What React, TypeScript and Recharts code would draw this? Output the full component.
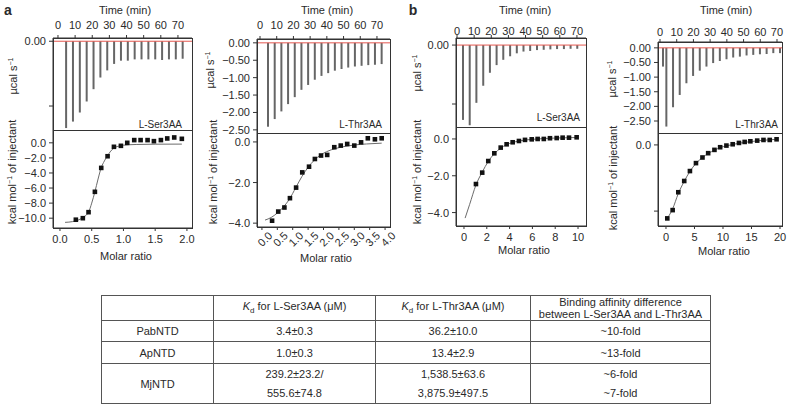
import React from "react";
import { Bar, ComposedChart, Line, ReferenceLine, Scatter, XAxis, YAxis } from "recharts";

const FONT = '"Liberation Sans", Arial, Helvetica, sans-serif';
const INK = "#2a2a2a";

// time axis of the raw heat traces
const timeTicks = [0, 10, 20, 30, 40, 50, 60, 70];

// a, L-Ser3AA
const serTimesA = [5, 9, 13, 17, 21, 25, 29, 33, 37, 41, 45, 49, 53, 57, 61, 65, 69, 73];
const serHeatA = [-1.34, -1.24, -1.1, -0.93, -0.74, -0.56, -0.45, -0.35, -0.3, -0.3, -0.28, -0.28, -0.28, -0.28, -0.29, -0.28, -0.28, -0.27];
const serRatioA = [0.25, 0.36, 0.45, 0.55, 0.65, 0.75, 0.85, 0.96, 1.06, 1.17, 1.27, 1.38, 1.48, 1.59, 1.69, 1.8, 1.92];
const serEnthA = [-10.2, -10.0, -9.2, -6.5, -3.33, -1.78, -0.53, -0.4, 0.0, 0.36, 0.36, 0.36, 0.22, 0.36, 0.58, 0.71, 0.53];
const serFitXA = [0.08, 0.2, 0.3, 0.38, 0.45, 0.5, 0.55, 0.6, 0.65, 0.7, 0.75, 0.8, 0.85, 0.9, 1.0, 1.2, 1.5, 1.92];
const serFitYA = [-10.55, -10.45, -10.2, -9.8, -9.2, -8.0, -6.5, -4.8, -3.3, -2.4, -1.7, -1.1, -0.7, -0.5, -0.32, -0.22, -0.18, -0.17];

// a, L-Thr3AA
const thrTimesA = [5, 9, 13, 17, 21, 25, 29, 33, 37, 41, 45, 49, 53, 57, 61, 65, 69, 73];
const thrHeatA = [-2.41, -2.19, -1.97, -1.76, -1.56, -1.35, -1.21, -1.06, -0.95, -0.87, -0.8, -0.75, -0.71, -0.68, -0.66, -0.64, -0.63, -0.61];
const thrRatioA = [0.33, 0.53, 0.73, 0.91, 1.11, 1.31, 1.53, 1.72, 1.92, 2.12, 2.35, 2.56, 2.77, 3.0, 3.22, 3.44, 3.67, 3.89];
const thrEnthA = [-3.88, -3.43, -3.23, -2.77, -2.25, -1.5, -1.22, -0.84, -0.67, -0.64, -0.26, -0.18, -0.1, -0.18, -0.02, 0.18, 0.13, 0.18];
const thrFitXA = [0.1, 0.3, 0.5, 0.7, 0.9, 1.1, 1.3, 1.5, 1.7, 1.9, 2.1, 2.4, 2.7, 3.0, 3.4, 3.89];
const thrFitYA = [-3.85, -3.72, -3.5, -3.2, -2.8, -2.25, -1.7, -1.25, -0.9, -0.65, -0.48, -0.32, -0.22, -0.15, -0.1, -0.06];

// b, L-Ser3AA
const serTimesB = [3.7, 7.6, 11.5, 15.5, 19.4, 23.3, 27.2, 31.2, 35.1, 39.0, 42.9, 46.9, 50.8, 54.7, 58.6, 62.6, 66.5, 70.4];
const serHeatB = [-1.27, -1.36, -0.98, -0.69, -0.47, -0.34, -0.25, -0.19, -0.14, -0.11, -0.1, -0.085, -0.08, -0.073, -0.068, -0.068, -0.063, -0.063];
const serRatioB = [1.05, 1.6, 2.13, 2.66, 3.22, 3.74, 4.27, 4.82, 5.35, 5.94, 6.46, 7.0, 7.54, 8.13, 8.65, 9.21, 9.88];
const serEnthB = [-2.45, -1.83, -1.2, -0.78, -0.47, -0.29, -0.18, -0.11, -0.05, -0.02, 0.0, 0.0, 0.04, 0.05, 0.07, 0.07, 0.09];
const serFitXB = [0.1, 0.5, 1.05, 1.6, 2.13, 2.66, 3.22, 3.74, 4.27, 4.82, 5.35, 6.46, 7.54, 8.65, 9.88];
const serFitYB = [-4.3, -3.55, -2.5, -1.8, -1.22, -0.8, -0.5, -0.31, -0.19, -0.11, -0.06, 0.0, 0.04, 0.06, 0.08];

// b, L-Thr3AA
const thrTimesB = [1.6, 3.6, 7.6, 11.6, 15.6, 19.6, 23.6, 27.6, 31.6, 35.6, 39.6, 43.6, 47.6, 51.6, 55.6, 59.6, 63.6, 67.6, 71.6];
const thrHeatB = [-0.64, -2.69, -2.03, -1.61, -1.21, -0.96, -0.78, -0.64, -0.52, -0.45, -0.39, -0.33, -0.3, -0.26, -0.24, -0.22, -0.21, -0.18, -0.18];
const thrRatioB = [0.23, 1.17, 2.16, 3.2, 4.2, 5.26, 6.4, 7.4, 8.5, 9.5, 10.6, 11.7, 12.8, 13.8, 14.8, 16.0, 17.1, 18.2, 19.4];
const thrEnthB = [-2.22, -1.97, -1.43, -1.09, -0.79, -0.55, -0.38, -0.25, -0.15, -0.07, -0.02, 0.02, 0.06, 0.09, 0.11, 0.13, 0.15, 0.15, 0.17];
const thrFitXB = [0.23, 1.17, 2.16, 3.2, 4.2, 5.26, 6.4, 7.4, 8.5, 9.5, 10.6, 12.8, 14.8, 17.1, 19.4];
const thrFitYB = [-2.22, -1.93, -1.47, -1.1, -0.8, -0.56, -0.38, -0.26, -0.16, -0.08, -0.03, 0.05, 0.1, 0.14, 0.17];

// table
const proteins = ["PabNTD", "ApNTD", "MjNTD"];
const kdSer = [["3.4±0.3"], ["1.0±0.3"], ["239.2±23.2/", "555.6±74.8"]];
const kdThr = [["36.2±10.0"], ["13.4±2.9"], ["1,538.5±63.6", "3,875.9±497.5"]];
const foldDiff = [["~10-fold"], ["~13-fold"], ["~6-fold", "~7-fold"]];

const minus = (s: string) => s.replace("-", "\u2212");
const fixed = (d: number) => (v: number) => minus(v.toFixed(d));
const onlyZero = (d: number) => (v: number) => (v === 0 ? v.toFixed(d) : "");

type Box = { left: number; right: number; top: number; bottom: number };

const PL = 44;
const PR = 14;
const tickStyle = { fontSize: 11, fill: INK, fontFamily: FONT };
const FRAME = "#333";

// tick labels drawn by the axes, formatted here
const YTick = (p: any) => (
    <text x={p.x} y={p.y} textAnchor="end" dominantBaseline="central" fontSize={11} fill={INK} fontFamily={FONT}>
        {p.fmt(p.payload.value)}
    </text>
);
const XTick = (p: any) => (
    <text x={p.x} y={p.y} dy="0.71em" textAnchor="middle" fontSize={11} fill={INK} fontFamily={FONT}>
        {p.fmt(p.payload.value)}
    </text>
);
const RotTick = (p: any) => (
    <text transform={`translate(${p.x + 3},${p.y + 5}) rotate(-45)`} textAnchor="middle" dominantBaseline="central" fontSize={11} fill={INK} fontFamily={FONT}>
        {p.fmt(p.payload.value)}
    </text>
);

// outline of one plot box
const BoxFrame = ({ box }: { box: Box }) => (
    <div
        style={{
            position: "absolute",
            left: box.left,
            top: box.top,
            width: box.right - box.left + 1,
            height: box.bottom - box.top + 1,
            border: `1px solid ${FRAME}`,
            boxSizing: "border-box",
            pointerEvents: "none",
        }}
    />
);

type ThermoProps = {
    box: Box;
    times: number[];
    heat: number[];
    tDomain: [number, number];
    yDomain: [number, number];
    yTicks: number[];
    fmtY: (v: number) => string;
    gap: number;
};

const Thermogram = ({ box, times, heat, tDomain, yDomain, yTicks, fmtY, gap }: ThermoProps) => {
    const PT = 30;
    const PB = 2;
    const w = box.right - box.left;
    const h = box.bottom - box.top;
    const data = times.map((t, i) => ({ t, q: heat[i] }));
    return (
        <>
            <div style={{ position: "absolute", left: box.left - PL, top: box.top - PT }}>
                <ComposedChart width={w + PL + PR} height={h + PT + PB} data={data} margin={{ top: 0, right: PR, bottom: PB, left: 0 }}>
                    <XAxis xAxisId="top" orientation="top" type="number" dataKey="t" domain={tDomain} ticks={timeTicks} interval={0} allowDataOverflow height={PT} tickSize={3} tickMargin={Math.max(gap - 3, 0)} tick={tickStyle} stroke={FRAME} />
                    <YAxis yAxisId="l" type="number" domain={yDomain} ticks={yTicks} interval={0} allowDataOverflow width={PL} tickSize={4} tickMargin={3} tick={(p: any) => <YTick {...p} fmt={fmtY} />} stroke={FRAME} />
                    <ReferenceLine xAxisId="top" yAxisId="l" y={0} stroke="#e4574f" strokeWidth={1} />
                    <Bar xAxisId="top" yAxisId="l" dataKey="q" barSize={2} fill="#666" isAnimationActive={false} />
                </ComposedChart>
            </div>
            <BoxFrame box={box} />
        </>
    );
};

const Square = (p: any) => <rect x={p.cx - 2.3} y={p.cy - 2.3} width={4.6} height={4.6} fill="#111" />;

type IsoProps = {
    box: Box;
    ratio: number[];
    enth: number[];
    fitX: number[];
    fitY: number[];
    xDomain: [number, number];
    xTicks: number[];
    fmtX: (v: number) => string;
    yDomain: [number, number];
    yTicks: number[];
    fmtY: (v: number) => string;
    rotate?: boolean;
};

const Isotherm = ({ box, ratio, enth, fitX, fitY, xDomain, xTicks, fmtX, yDomain, yTicks, fmtY, rotate }: IsoProps) => {
    const PT = 2;
    const PB = 30;
    const w = box.right - box.left;
    const h = box.bottom - box.top;
    const points = ratio.map((x, i) => ({ x, y: enth[i] }));
    const fit = fitX.map((x, i) => ({ x, y: fitY[i] }));
    return (
        <>
            <div style={{ position: "absolute", left: box.left - PL, top: box.top - PT }}>
                <ComposedChart width={w + PL + PR} height={h + PT + PB} margin={{ top: PT, right: PR, bottom: 0, left: 0 }}>
                    <XAxis
                        xAxisId="b"
                        type="number"
                        dataKey="x"
                        domain={xDomain}
                        ticks={xTicks}
                        interval={0}
                        allowDataOverflow
                        height={PB}
                        tickSize={3}
                        tickMargin={4}
                        tick={(p: any) => (rotate ? <RotTick {...p} fmt={fmtX} /> : <XTick {...p} fmt={fmtX} />)}
                        stroke={FRAME}
                    />
                    <YAxis yAxisId="l" type="number" dataKey="y" domain={yDomain} ticks={yTicks} interval={0} allowDataOverflow width={PL} tickSize={4} tickMargin={3} tick={(p: any) => <YTick {...p} fmt={fmtY} />} stroke={FRAME} />
                    <Line xAxisId="b" yAxisId="l" data={fit} dataKey="y" type="monotone" dot={false} stroke="#6b6b6b" strokeWidth={1} isAnimationActive={false} />
                    <Scatter xAxisId="b" yAxisId="l" data={points} dataKey="y" shape={Square} isAnimationActive={false} />
                </ComposedChart>
            </div>
            <BoxFrame box={box} />
        </>
    );
};

const Txt = ({ x, y, children, size = 11, anchor = "middle", bold = false }: any) => (
    <div
        style={{
            position: "absolute",
            left: x,
            top: y,
            transform: anchor === "end" ? "translate(-100%,-50%)" : "translate(-50%,-50%)",
            whiteSpace: "nowrap",
            fontSize: size,
            fontWeight: bold ? "bold" : "normal",
            color: INK,
            lineHeight: 1,
        }}
    >
        {children}
    </div>
);

const VTxt = ({ x, y, children }: any) => (
    <div
        style={{
            position: "absolute",
            left: x,
            top: y,
            transform: "translate(-50%,-50%) rotate(-90deg)",
            whiteSpace: "nowrap",
            fontSize: 11,
            color: INK,
            lineHeight: 1,
        }}
    >
        {children}
    </div>
);

const Sup = ({ children }: any) => <sup style={{ fontSize: 7, verticalAlign: "4px" }}>{children}</sup>;
const Ucal = () => (
    <>
        µcal s<Sup>−1</Sup>
    </>
);
const Kcal = () => (
    <>
        kcal mol<Sup>−1</Sup> of injectant
    </>
);

const cell = { border: "1px solid #555", textAlign: "center" as const, padding: 0, verticalAlign: "middle" as const };

export default function App() {
    return (
        <div style={{ position: "absolute", left: 0, top: 0, width: 788, height: 404, background: "#fff", fontFamily: FONT, overflow: "hidden" }}>
            <Thermogram box={{ left: 53, right: 192, top: 38, bottom: 130 }} times={serTimesA} heat={serHeatA} tDomain={[-2.9, 78.2]} yDomain={[-1.37, 0.05]} yTicks={[-1, 0]} fmtY={onlyZero(2)} gap={9} />
            <Isotherm box={{ left: 53, right: 192, top: 130, bottom: 228 }} ratio={serRatioA} enth={serEnthA} fitX={serFitXA} fitY={serFitYA} xDomain={[-0.11, 2.08]} xTicks={[0, 0.5, 1, 1.5, 2]} fmtX={fixed(1)} yDomain={[-11.3, 1.7]} yTicks={[-10, -8, -6, -4, -2, 0]} fmtY={fixed(1)} />

            <Thermogram box={{ left: 257, right: 390, top: 39, bottom: 133 }} times={thrTimesA} heat={thrHeatA} tDomain={[-1.8, 77.8]} yDomain={[-2.59, 0.11]} yTicks={[-2.5, -2, -1.5, -1, -0.5, 0]} fmtY={fixed(2)} gap={10} />
            <Isotherm box={{ left: 257, right: 390, top: 133, bottom: 227 }} ratio={thrRatioA} enth={thrEnthA} fitX={thrFitXA} fitY={thrFitYA} xDomain={[-0.16, 4.16]} xTicks={[0, 0.5, 1, 1.5, 2, 2.5, 3, 3.5, 4]} fmtX={fixed(1)} yDomain={[-4.19, 0.44]} yTicks={[-4, -2, 0]} fmtY={fixed(1)} rotate />

            <Thermogram box={{ left: 456, right: 586, top: 38, bottom: 127 }} times={serTimesB} heat={serHeatB} tDomain={[-0.6, 75.3]} yDomain={[-1.39, 0.12]} yTicks={[-1, 0]} fmtY={onlyZero(2)} gap={3} />
            <Isotherm box={{ left: 456, right: 586, top: 127, bottom: 226 }} ratio={serRatioB} enth={serEnthB} fitX={serFitXB} fitY={serFitYB} xDomain={[-0.7, 10.7]} xTicks={[0, 2, 4, 6, 8, 10]} fmtX={fixed(0)} yDomain={[-4.73, 0.65]} yTicks={[-4, -2, 0]} fmtY={fixed(1)} />

            <Thermogram box={{ left: 658, right: 782, top: 42, bottom: 133 }} times={thrTimesB} heat={thrHeatB} tDomain={[-1.2, 73.0]} yDomain={[-2.91, 0.2]} yTicks={[-2.5, -2, -1.5, -1, -0.5, 0]} fmtY={fixed(2)} gap={6} />
            <Isotherm box={{ left: 658, right: 782, top: 133, bottom: 226 }} ratio={thrRatioB} enth={thrEnthB} fitX={thrFitXB} fitY={thrFitYB} xDomain={[-1.4, 20.35]} xTicks={[0, 5, 10, 15, 20]} fmtX={fixed(0)} yDomain={[-2.45, 0.36]} yTicks={[-2, 0]} fmtY={onlyZero(1)} />

            <Txt x={8} y={10} size={14} bold>a</Txt>
            <Txt x={413} y={10} size={14} bold>b</Txt>

            <Txt x={125} y={10}>Time (min)</Txt>
            <Txt x={327} y={10}>Time (min)</Txt>
            <Txt x={525} y={10}>Time (min)</Txt>
            <Txt x={726} y={10}>Time (min)</Txt>

            <Txt x={126} y={256}>Molar ratio</Txt>
            <Txt x={326} y={258}>Molar ratio</Txt>
            <Txt x={524} y={250}>Molar ratio</Txt>
            <Txt x={724} y={251}>Molar ratio</Txt>

            <Txt x={182} y={125} size={10} anchor="end">L-Ser3AA</Txt>
            <Txt x={382} y={125} size={10} anchor="end">L-Thr3AA</Txt>
            <Txt x={580} y={118} size={10} anchor="end">L-Ser3AA</Txt>
            <Txt x={778} y={125} size={10} anchor="end">L-Thr3AA</Txt>

            <VTxt x={13} y={76}><Ucal /></VTxt>
            <VTxt x={210} y={70}><Ucal /></VTxt>
            <VTxt x={417} y={73}><Ucal /></VTxt>
            <VTxt x={612} y={79}><Ucal /></VTxt>

            <VTxt x={12} y={172}><Kcal /></VTxt>
            <VTxt x={213} y={172}><Kcal /></VTxt>
            <VTxt x={417} y={172}><Kcal /></VTxt>
            <VTxt x={613} y={178}><Kcal /></VTxt>

            <table style={{ position: "absolute", left: 101, top: 295, width: 609, borderCollapse: "collapse", fontSize: 11, color: INK, fontFamily: FONT, tableLayout: "fixed" }}>
                <colgroup>
                    <col style={{ width: 112 }} />
                    <col style={{ width: 162 }} />
                    <col style={{ width: 155 }} />
                    <col style={{ width: 180 }} />
                </colgroup>
                <tbody>
                    <tr style={{ height: 25 }}>
                        <td style={cell}></td>
                        <td style={cell}>
                            <i>K</i>
                            <sub style={{ fontSize: 8 }}>d</sub> for L-Ser3AA (μM)
                        </td>
                        <td style={cell}>
                            <i>K</i>
                            <sub style={{ fontSize: 8 }}>d</sub> for L-Thr3AA (μM)
                        </td>
                        <td style={{ ...cell, lineHeight: "12px" }}>
                            Binding affinity difference
                            <br />
                            between L-Ser3AA and L-Thr3AA
                        </td>
                    </tr>
                    {proteins.map((p, i) => (
                        <tr key={p} style={{ height: i === 2 ? 40 : i === 0 ? 21 : 22 }}>
                            <td style={cell}>{p}</td>
                            {[kdSer[i], kdThr[i], foldDiff[i]].map((lines, j) => (
                                <td key={j} style={{ ...cell, lineHeight: lines.length > 1 ? "19px" : "14px" }}>
                                    {lines.map((s) => (
                                        <div key={s}>{s}</div>
                                    ))}
                                </td>
                            ))}
                        </tr>
                    ))}
                </tbody>
            </table>
        </div>
    );
}
